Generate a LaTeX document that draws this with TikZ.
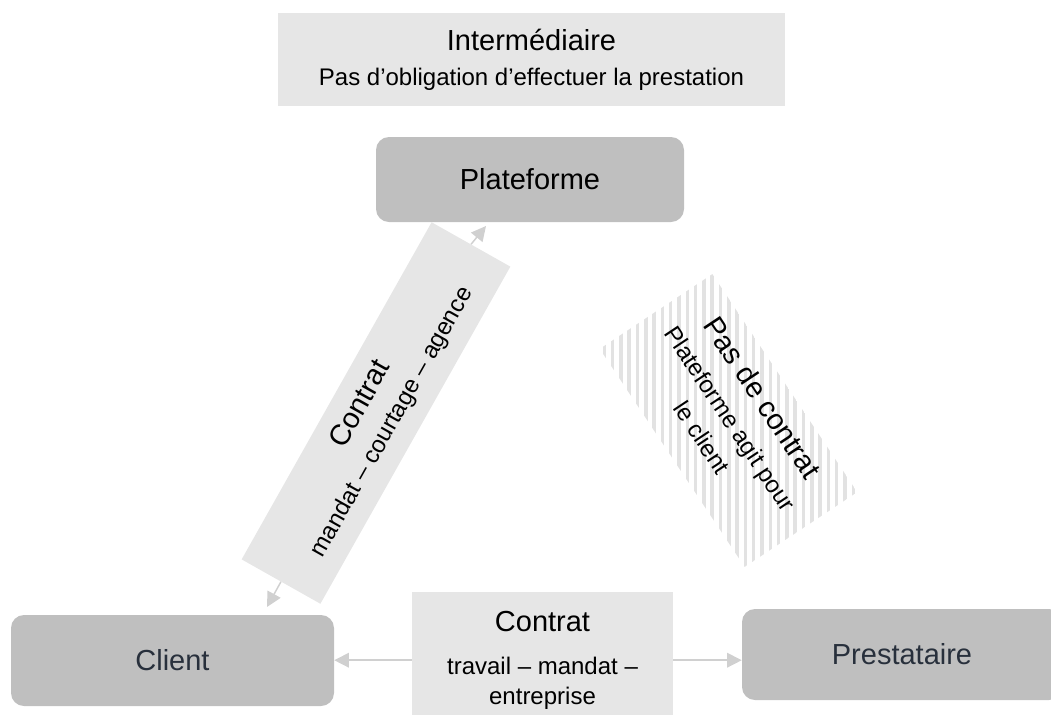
\documentclass[tikz,border=0pt]{standalone}
\usepackage{fontspec}
\setmainfont{Liberation Sans}
\usetikzlibrary{arrows.meta}
\definecolor{boxlight}{HTML}{E6E6E6}
\definecolor{boxdark}{HTML}{BFBFBF}
\definecolor{linkgray}{HTML}{D0D0D0}
\definecolor{stripegray}{HTML}{E2E2E2}
\definecolor{partytext}{HTML}{28303C}
\newcommand\bigline{\fontsize{21.75}{26}\selectfont}
\newcommand\smallline{\fontsize{18}{22.5}\selectfont}
\begin{document}
\begin{tikzpicture}[x=0.75pt,y=-0.75pt,
  lightbox/.style={fill=boxlight, inner sep=0pt, align=center, font=\smallline},
  party/.style={fill=boxdark, rounded corners=9.75pt, inner sep=0pt, font=\bigline},
  textblock/.style={inner sep=0pt, align=center, font=\smallline},
  link/.style={draw=linkgray, line width=1.1pt, -{Triangle[length=11pt,width=11pt]}},
  stripe/.style={draw=stripegray, line width=2.6pt},
]
\clip (0,0) rectangle (1051,715);

% top banner
\node[lightbox, minimum width=380.25pt, minimum height=69.75pt] (inter) at (531.5,59.5)
  {{\bigline Intermédiaire}\\[3.75pt] Pas d’obligation d’effectuer la prestation};

% the three parties
\node[party, minimum width=231pt, minimum height=63.75pt] (plat) at (530,179.5) {Plateforme};
\node[party, text=partytext, minimum width=242.25pt, minimum height=68.25pt] (client) at (172.5,660.5) {\raisebox{-1.5pt}{Client}};
\node[party, text=partytext, minimum width=240pt, minimum height=68.25pt] (prest) at (902,654.5) {Prestataire};

% contract between client and platform
\node[lightbox, rotate=60.6, minimum width=290.25pt, minimum height=67.8pt] (cbox) at (376,413)
  {{\bigline Contrat}\\[3.75pt] mandat – courtage – agence};
\coordinate (platTip) at (486,226);
\coordinate (clientTip) at (267,607);
\draw[link] (cbox.east) -- (platTip);
\draw[link] (cbox.west) -- (clientTip);

% contract between client and provider
\node[lightbox, minimum width=195.75pt, minimum height=92.25pt] (mid) at (542.5,653.5) {};
\node[textblock, anchor=north] (midtext) at (542.5,611)
  {{\bigline Contrat}\\[9.5pt] travail – mandat –\\ entreprise};
\draw[link] (mid.west |- midtext.center) -- (client.east |- midtext.center);
\draw[link] (mid.east |- midtext.center) -- (prest.west |- midtext.center);

% no contract between platform and provider: striped band
\node[inner sep=0pt, rotate=-56.4, minimum width=196pt, minimum height=101pt] (nocontract) at (728.5,420.5) {};
\begin{scope}
  \clip (nocontract.north west) -- (nocontract.north east) -- (nocontract.south east) -- (nocontract.south west) -- cycle;
  \foreach \sx in {596,604.3,...,870} \draw[stripe] (\sx,260) -- (\sx,580);
\end{scope}
\node[textblock, rotate=-56.4] (nocontracttext) at (733,417)
  {{\bigline Pas de contrat}\\[5pt] Plateforme agit pour\\[3pt] le client};
\end{tikzpicture}
\end{document}
